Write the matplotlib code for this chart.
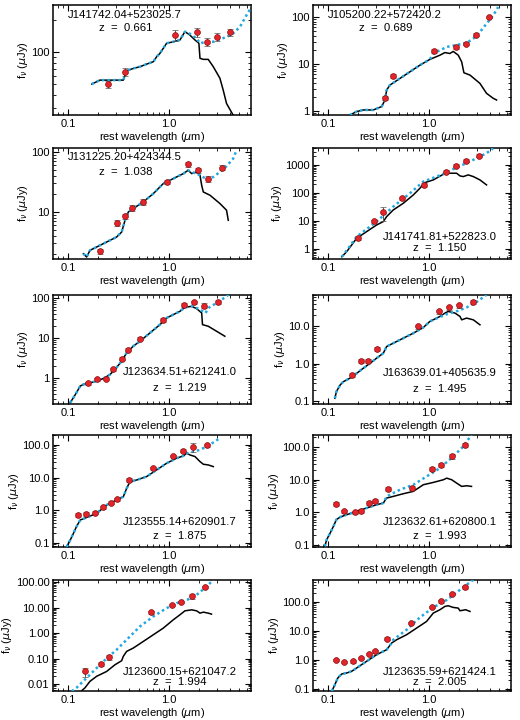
import numpy as np
import matplotlib
matplotlib.use("Agg")
import matplotlib.pyplot as plt
from matplotlib.ticker import LogLocator, FuncFormatter, NullFormatter, FixedLocator

plt.rcParams['font.family'] = ['Liberation Sans', 'DejaVu Sans']
plt.rcParams['mathtext.fontset'] = 'dejavusans'

names = ['J141742.04+523025.7', 'J105200.22+572420.2', 'J131225.20+424344.5',
         'J141741.81+522823.0', 'J123634.51+621241.0', 'J163639.01+405635.9',
         'J123555.14+620901.7', 'J123632.61+620800.1', 'J123600.15+621047.2',
         'J123635.59+621424.1']
redshifts = ['0.661', '0.689', '1.038', '1.150', '1.219', '1.495', '1.875', '1.993', '1.994', '2.005']

# ---- panel 1
black_x1 = [0.172, 0.192, 0.207, 0.241, 0.281, 0.353, 0.367, 0.381, 0.443, 0.516, 0.601, 0.700, 0.755, 0.814,
            0.948, 1.104, 1.285, 1.44, 1.61, 1.81, 1.98, 2.03, 2.19, 2.45, 2.75, 3.20, 3.45, 3.72, 4.33]
black_y1 = [50.3, 52.9, 54.8, 54.8, 54.8, 54.8, 61.1, 67.2, 70.6, 73.3, 77.6, 81.7, 91, 98,
            122, 126, 131, 157, 146, 131, 122, 88, 86, 86, 73.3, 57, 44, 33, 25.6]
blue_x1 = [1.61, 1.88, 2.03, 2.36, 2.75, 3.72, 4.33, 5.05, 5.88, 6.74]
blue_y1 = [150, 135, 122, 126, 126, 140, 151, 174, 225, 280]
phot_x1 = [0.251, 0.367, 1.15, 1.88, 2.36, 2.96, 4.02]
phot_y1 = [50, 65.8, 146, 154.5, 126, 140.5, 154.5]
phot_e1 = [0.08, 0.08, 0.12, 0.10, 0.09, 0.09, 0.08]

# ---- panel 2
black_x2 = [0.165, 0.192, 0.224, 0.281, 0.340, 0.367, 0.381, 0.411, 0.516, 0.648, 0.814, 1.02, 1.285, 1.44,
            1.61, 1.74, 1.95, 2.11, 2.22, 2.55, 3.20, 3.72, 4.33, 4.68]
black_y2 = [0.82, 0.97, 1.05, 1.05, 1.24, 1.71, 2.79, 3.56, 4.93, 6.82, 9.44, 12.5, 15.4, 17.5,
            16.7, 18.5, 15.4, 11.1, 6.5, 5.8, 3.86, 2.37, 1.86, 1.71]
blue_x2 = [1.10, 1.51, 2.03, 2.36, 2.75, 3.20, 3.72, 4.33, 4.85]
blue_y2 = [16.7, 23.1, 26.3, 28.1, 34.7, 48, 72, 108, 163]
phot_x2 = [0.367, 0.443, 1.13, 1.84, 2.31, 2.92, 3.96]
phot_y2 = [1.86, 5.52, 19.0, 23.1, 27.2, 42.2, 100]
phot_e2 = [0.1, 0.1, 0.1, 0.08, 0.08, 0.08, 0.06]

# ---- panel 3
black_x3 = [0.142, 0.153, 0.165, 0.192, 0.241, 0.303, 0.340, 0.367, 0.396, 0.443, 0.557, 0.700, 0.879,
            1.104, 1.39, 1.55, 1.68, 1.88, 2.03, 2.11, 2.19, 2.55, 3.20, 3.72, 3.87]
black_y3 = [2.02, 1.78, 2.30, 2.61, 3.16, 3.83, 4.64, 7.27, 10, 11.4, 14.7, 20.2, 29.7,
            35.9, 43.5, 49.4, 43.5, 46.4, 40.8, 27.8, 21.5, 19.0, 13.8, 10.7, 7.27]
blue_x3 = [1.68, 2.03, 2.31, 2.45, 2.75, 3.20, 3.72, 4.33, 4.68]
blue_y3 = [46.4, 40.8, 35.9, 33.7, 38.3, 46.4, 57.7, 77.4, 107]
phot_x3 = [0.207, 0.303, 0.367, 0.427, 0.557, 0.948, 1.55, 1.95, 2.45, 3.32]
phot_y3 = [2.21, 6.56, 8.47, 11.7, 14.7, 31.6, 62.2, 49.4, 35.9, 54.8]
phot_e3 = [0.1, 0.1, 0.1, 0.1, 0.1, 0.08, 0.1, 0.1, 0.12, 0.1]

# ---- panel 4
black_x4 = [0.137, 0.153, 0.192, 0.241, 0.303, 0.353, 0.381, 0.443, 0.557, 0.700, 0.814, 0.913, 1.104,
            1.39, 1.61, 1.88, 2.03, 2.19, 2.45, 2.75, 3.20, 3.72]
black_y4 = [0.53, 0.80, 2.40, 4.16, 7.2, 9.5, 14.3, 24.7, 42.8, 84.8, 147, 234, 291,
            464, 504, 504, 404, 383, 439, 383, 291, 193]
blue_x4 = [0.142, 0.192, 0.303, 0.443, 0.648, 0.879, 1.19, 1.51, 1.88, 2.36, 2.96, 3.72, 4.33]
blue_y4 = [0.61, 2.75, 9.5, 32.5, 97, 254, 383, 532, 826, 1147, 1730, 2610, 3940]
phot_x4 = [0.197, 0.288, 0.353, 0.536, 0.899, 1.46, 1.84, 2.31, 3.13]
phot_y4 = [2.54, 10, 20.4, 64.6, 193, 578, 946, 1430, 2155]
phot_e4 = [0.15, 0.12, 0.5, 0.15, 0.15, 0.1, 0.1, 0.1, 0.1]

# ---- panel 5
black_x5 = [0.105, 0.113, 0.121, 0.132, 0.142, 0.165, 0.192, 0.224, 0.261, 0.292, 0.340, 0.381, 0.443,
            0.516, 0.648, 0.814, 0.948, 1.104, 1.285, 1.44, 1.68, 1.88, 2.11, 2.15, 2.45, 2.96, 3.58]
black_y5 = [0.237, 0.316, 0.42, 0.62, 0.68, 0.75, 0.82, 0.96, 1.21, 1.62, 2.61, 4.22, 6.19,
            8.25, 13.3, 21.5, 31.6, 38.3, 46.4, 58.4, 61.9, 54.1, 42.2, 21.5, 19.6, 14.7, 11.0]
blue_x5 = [1.74, 2.03, 2.31, 2.45, 2.96, 3.72, 4.02]
blue_y5 = [61.9, 51, 42.2, 56, 75, 110, 133]
phot_x5 = [0.159, 0.192, 0.238, 0.281, 0.340, 0.390, 0.516, 0.879, 1.41, 1.77, 2.24, 3.08]
phot_y5 = [0.72, 0.91, 0.95, 1.62, 3.04, 5.1, 9.6, 28.2, 68, 78, 64.3, 79.4]
phot_e5 = [0.1, 0.1, 0.1, 0.1, 0.1, 0.1, 0.1, 0.1, 0.1, 0.1, 0.15, 0.1]

# ---- panel 6
black_x6 = [0.117, 0.121, 0.132, 0.142, 0.165, 0.192, 0.224, 0.261, 0.303, 0.353, 0.381, 0.443, 0.557,
            0.700, 0.879, 1.02, 1.285, 1.44, 1.55, 1.81, 2.03, 2.11, 2.36, 2.75, 3.20]
black_y6 = [0.118, 0.178, 0.27, 0.33, 0.41, 0.55, 0.76, 1.03, 1.41, 1.92, 2.90, 3.56, 4.85,
            6.6, 9.4, 13.6, 18.6, 22.9, 25.3, 22.9, 18.6, 15.1, 16.8, 15.1, 11.1]
blue_x6 = [1.10, 1.51, 1.95, 2.36, 2.96, 3.72]
blue_y6 = [15.1, 21.5, 26.4, 32.4, 45.2, 71]
phot_x6 = [0.172, 0.211, 0.251, 0.303, 0.784, 1.26, 1.58, 2.0, 2.71]
phot_y6 = [0.50, 1.19, 1.19, 2.51, 10, 25.3, 32.4, 36.7, 45.2]
phot_e6 = [0.12, 0.12, 0.12, 0.12, 0.12, 0.12, 0.12, 0.12, 0.12]

# ---- panel 7
black_x7 = [0.097, 0.105, 0.113, 0.121, 0.132, 0.153, 0.192, 0.241, 0.303, 0.353, 0.381, 0.411, 0.479,
            0.601, 0.755, 0.948, 1.19, 1.39, 1.50, 1.61, 1.81, 2.03, 2.19, 2.45, 2.75]
black_y7 = [0.0755, 0.121, 0.194, 0.31, 0.50, 0.60, 0.80, 1.44, 2.05, 2.59, 4.67, 7.48, 8.41,
            10.7, 17.1, 27.3, 39, 45.9, 55.4, 49.3, 43.9, 30.8, 25.5, 24.3, 21.6]
blue_x7 = [1.61, 2.03, 2.36, 2.75, 3.08]
blue_y7 = [58.2, 70.2, 89, 118, 149]
phot_x7 = [0.125, 0.151, 0.185, 0.220, 0.267, 0.303, 0.405, 0.689, 1.09, 1.39, 1.74, 2.36]
phot_y7 = [0.71, 0.78, 0.85, 1.22, 1.69, 2.15, 8.41, 19.2, 45.9, 67, 88, 98]
phot_e7 = [0.12, 0.12, 0.1, 0.1, 0.1, 0.1, 0.12, 0.1, 0.1, 0.1, 0.3, 0.1]

# ---- panel 8
black_x8 = [0.093, 0.097, 0.105, 0.113, 0.121, 0.132, 0.153, 0.192, 0.241, 0.303, 0.353, 0.381, 0.443,
            0.557, 0.700, 0.879, 1.104, 1.39, 1.50, 1.68, 1.88, 2.11, 2.36, 2.64]
black_y8 = [0.091, 0.146, 0.233, 0.37, 0.60, 0.72, 0.85, 1.07, 1.36, 1.72, 1.93, 2.75, 3.09,
            3.73, 4.40, 7.03, 8.28, 10, 11.2, 10, 7.9, 6.25, 6.55, 6.25]
blue_x8 = [0.381, 0.516, 0.700, 0.948, 1.285, 1.74, 2.19, 2.64]
blue_y8 = [3.09, 4.94, 7.03, 12.6, 22.8, 51.8, 105, 239]
phot_x8 = [0.120, 0.145, 0.185, 0.211, 0.255, 0.292, 0.390, 0.673, 1.06, 1.33, 1.68, 2.27]
phot_y8 = [1.80, 1.07, 1.0, 1.12, 1.93, 2.28, 5.3, 5.56, 21.2, 28.8, 51.8, 118]
phot_e8 = [0.12, 0.12, 0.12, 0.12, 0.12, 0.12, 0.15, 0.15, 0.15, 0.12, 0.15, 0.12]

# ---- panel 9
black_x9 = [0.137, 0.147, 0.165, 0.192, 0.241, 0.292, 0.340, 0.353, 0.381, 0.443, 0.557, 0.700, 0.879,
            1.104, 1.285, 1.44, 1.68, 1.88, 2.03, 2.19, 2.45, 2.64]
black_y9 = [0.0055, 0.0070, 0.0127, 0.020, 0.031, 0.057, 0.082, 0.122, 0.191, 0.258, 0.47, 0.86, 1.57,
            3.33, 5.24, 7.5, 8.2, 7.5, 6.08, 6.66, 6.08, 5.56]
blue_x9 = [0.109, 0.121, 0.165, 0.224, 0.303, 0.381, 0.516, 0.700, 0.948, 1.19, 1.51, 1.88, 2.36, 2.75]
blue_y9 = [0.0052, 0.0070, 0.0232, 0.0775, 0.222, 0.548, 1.82, 4.51, 9.55, 15, 20.3, 31.8, 67.6, 123]
phot_x9 = [0.147, 0.211, 0.255, 0.658, 1.06, 1.33, 1.68, 2.27]
phot_y9 = [0.031, 0.063, 0.115, 6.66, 12.9, 16.4, 28.2, 63.7]
phot_e9 = [0.4, 0.2, 0.25, 0.12, 0.12, 0.1, 0.2, 0.1]

# ---- panel 10
black_x10 = [0.109, 0.117, 0.125, 0.137, 0.153, 0.172, 0.192, 0.241, 0.303, 0.381, 0.427, 0.479, 0.601,
             0.755, 0.948, 1.104, 1.285, 1.44, 1.55, 1.74, 1.95, 2.03, 2.31, 2.55]
black_y10 = [0.083, 0.141, 0.239, 0.33, 0.356, 0.41, 0.53, 0.90, 1.53, 2.27, 3.86, 5.02, 7.48,
             12.7, 21.5, 41.8, 54.5, 71, 74.8, 65.5, 62.1, 50.2, 54.5, 47.6]
blue_x10 = [0.443, 0.601, 0.814, 1.104, 1.51, 2.03, 2.75]
blue_y10 = [5.02, 11.1, 29.6, 65.5, 120, 266, 589]
phot_x10 = [0.120, 0.145, 0.178, 0.211, 0.255, 0.292, 0.387, 0.658, 1.06, 1.33, 1.68, 2.27]
phot_y10 = [1.0, 0.85, 0.90, 1.17, 1.61, 1.99, 5.45, 18.9, 67.3, 105, 189, 320]
phot_e10 = [0.1, 0.1, 0.1, 0.1, 0.1, 0.1, 0.1, 0.1, 0.1, 0.1, 0.1, 0.1]

panels = [
    (black_x1, black_y1, blue_x1, blue_y1, phot_x1, phot_y1, phot_e1),
    (black_x2, black_y2, blue_x2, blue_y2, phot_x2, phot_y2, phot_e2),
    (black_x3, black_y3, blue_x3, blue_y3, phot_x3, phot_y3, phot_e3),
    (black_x4, black_y4, blue_x4, blue_y4, phot_x4, phot_y4, phot_e4),
    (black_x5, black_y5, blue_x5, blue_y5, phot_x5, phot_y5, phot_e5),
    (black_x6, black_y6, blue_x6, blue_y6, phot_x6, phot_y6, phot_e6),
    (black_x7, black_y7, blue_x7, blue_y7, phot_x7, phot_y7, phot_e7),
    (black_x8, black_y8, blue_x8, blue_y8, phot_x8, phot_y8, phot_e8),
    (black_x9, black_y9, blue_x9, blue_y9, phot_x9, phot_y9, phot_e9),
    (black_x10, black_y10, blue_x10, blue_y10, phot_x10, phot_y10, phot_e10),
]

# layout / styling
ylims = [(25.7, 280), (0.82, 180), (1.65, 116), (0.44, 4000), (0.22, 119),
         (0.083, 70), (0.075, 200), (0.087, 235), (0.0053, 122), (0.085, 580)]
decimals = [0, 0, 0, 0, 0, 1, 1, 1, 2, 1]
label_pos = [(0.365, 0.91, 0.79), (0.365, 0.91, 0.79), (0.365, 0.92, 0.78),
             (0.64, 0.20, 0.10), (0.64, 0.29, 0.15), (0.64, 0.28, 0.14),
             (0.64, 0.22, 0.10), (0.64, 0.22, 0.10), (0.64, 0.175, 0.08), (0.64, 0.175, 0.08)]
row_px = [(5, 115), (148, 259), (295, 404), (435, 547), (580, 691)]
col_px = [53, 313]
W, H = 520, 720

BLUE = '#22a8e0'
RED = '#e3242b'

fig = plt.figure(figsize=(5.2, 7.2), dpi=100)

for i, (bx, by, ux, uy, px, py, pe) in enumerate(panels):
    r, c = divmod(i, 2)
    top, bot = row_px[r]
    ax = fig.add_axes([col_px[c] / W, 1 - bot / H, 198 / W, (bot - top) / H])
    ax.set_xscale('log')
    ax.set_yscale('log')

    bx = np.array(bx); by = np.array(by)
    ux = np.array(ux); uy = np.array(uy)
    # model curve = template where it overlaps, then its own tail
    keep = bx < ux[0]
    mx = np.concatenate([bx[keep], ux])
    my = np.concatenate([by[keep], uy])

    ax.plot(bx, by, color='black', lw=1.1, zorder=2)
    ax.plot(mx, my, color=BLUE, lw=1.8, ls=(0, (1, 1.2)), zorder=3)

    px = np.array(px); py = np.array(py); pe = np.array(pe)
    ax.errorbar(px, py, yerr=py * pe, fmt='o', ms=4.2, mfc=RED, mec='#8a1010', mew=0.5,
                ecolor='#555555', elinewidth=0.7, capsize=2.2, capthick=0.7, zorder=4)

    ax.set_xlim(0.071, 6.5)
    ax.set_ylim(*ylims[i])

    ax.xaxis.set_major_locator(FixedLocator([0.1, 1.0, 10.0]))
    ax.xaxis.set_major_formatter(FuncFormatter(lambda v, p: '%.1f' % v))
    ax.xaxis.set_minor_locator(LogLocator(base=10, subs=np.arange(2, 10), numticks=20))
    ax.xaxis.set_minor_formatter(NullFormatter())

    d = decimals[i]
    ax.yaxis.set_major_locator(LogLocator(base=10, numticks=20))
    ax.yaxis.set_major_formatter(FuncFormatter(lambda v, p, d=d: ('%.' + str(d) + 'f') % v))
    ax.yaxis.set_minor_locator(LogLocator(base=10, subs=np.arange(2, 10), numticks=20))
    ax.yaxis.set_minor_formatter(NullFormatter())

    ax.tick_params(which='both', direction='in', top=True, right=True, labelsize=8)
    ax.tick_params(axis='x', pad=3)
    ax.tick_params(axis='y', pad=2.5)
    ax.tick_params(which='major', length=4, width=0.8)
    ax.tick_params(which='minor', length=2, width=0.6)
    for s in ax.spines.values():
        s.set_linewidth(1.1)

    ax.set_xlabel(r'rest wavelength ($\mu$m)', fontsize=8, labelpad=0.5)
    ax.set_ylabel(r'f$_\nu$ ($\mu$Jy)', fontsize=8, labelpad=1)

    lx, ly1, ly2 = label_pos[i]
    ax.text(lx, ly1, names[i], transform=ax.transAxes, ha='center', va='center', fontsize=8.2)
    ax.text(lx, ly2, 'z  =  ' + redshifts[i], transform=ax.transAxes, ha='center', va='center', fontsize=8.2)

fig.savefig('out.png', dpi=100)
